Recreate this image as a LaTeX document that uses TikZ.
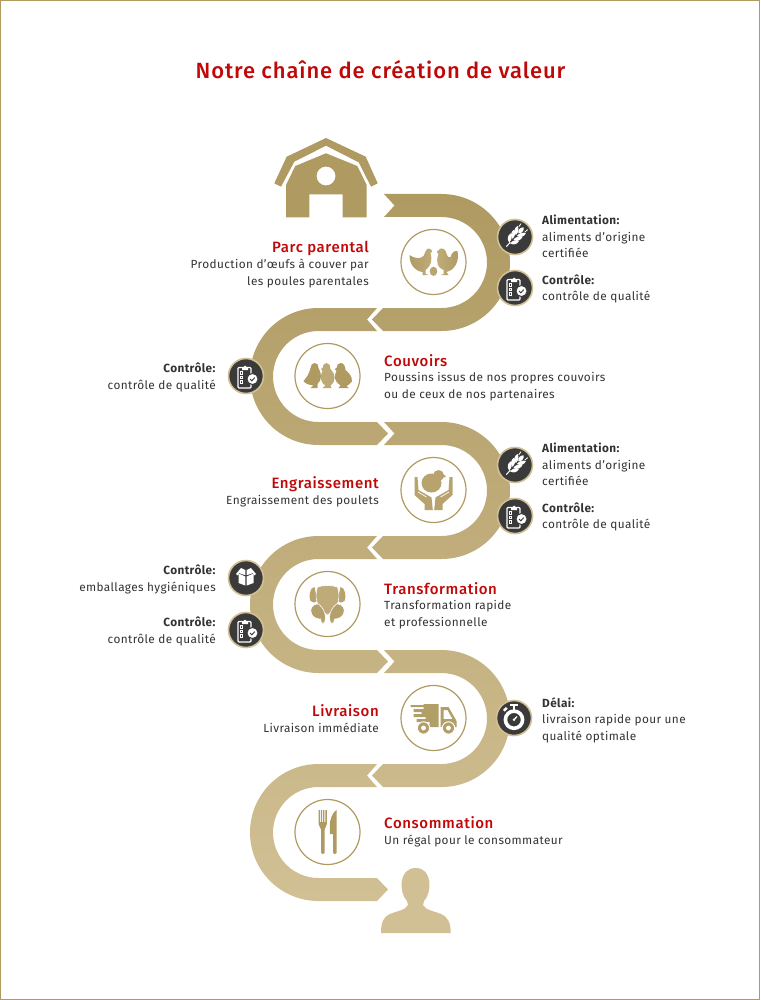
\documentclass[tikz,border=0pt]{standalone}
\usepackage{fontspec}
\setmainfont[LetterSpace=3.4]{Fira Sans}
\newfontfamily\spacedfont[LetterSpace=4]{Fira Sans Medium}
\usetikzlibrary{shapes.geometric}
\definecolor{goldA}{HTML}{AF9A62}
\definecolor{goldB}{HTML}{D1C094}
\definecolor{titlered}{HTML}{C00808}
\definecolor{bodygrey}{HTML}{333333}
\definecolor{badgegrey}{HTML}{3A3A3A}
\newcommand{\bandright}[3]{\path[top color=goldB!#2!goldA,bottom color=goldB!#3!goldA] (384,#1-68.5) -- (441.5,#1-68.5) arc[start angle=-90,end angle=90,radius=68.5] -- (383,#1+68.5) -- (372,#1+57) -- (383,#1+45.5) -- (441.5,#1+45.5) arc[start angle=90,end angle=-90,radius=45.5] -- (384,#1-45.5) -- (394.5,#1-57) -- cycle;}
\newcommand{\bandleft}[3]{\path[top color=goldB!#2!goldA,bottom color=goldB!#3!goldA] (377,#1-68.5) -- (367,#1-57) -- (377,#1-45.5) -- (318.5,#1-45.5) arc[start angle=270,end angle=90,radius=45.5] -- (377,#1+45.5) -- (388,#1+57) -- (377,#1+68.5) -- (318.5,#1+68.5) arc[start angle=90,end angle=270,radius=68.5] -- cycle;}
\tikzset{ring/.style={draw=goldA,fill=white,circle,line width=1.2pt,minimum size=65pt,inner sep=0pt}}
\tikzset{badge/.style={draw=goldB,fill=badgegrey,circle,line width=1.6pt,minimum size=35pt,inner sep=0pt}}
\tikzset{headtext/.style={inner sep=0pt,text=titlered,font={\fontsize{15}{18}\spacedfont}}}
\tikzset{blocktext/.style={inner sep=0pt,text=bodygrey,font={\fontsize{11.8}{16.4}\selectfont}}}
\tikzset{lefttext/.style={blocktext,align=right,anchor=base east}}
\tikzset{righttext/.style={blocktext,align=left,anchor=base west}}
\tikzset{wheaticon/.pic={
  \begin{scope}[rotate=-42,white]
    \foreach \g in {-5,0,5}{
      \fill (-.6,\g+3) .. controls (-5.5,\g+2) and (-6.5,\g-2) .. (-5.5,\g-5) .. controls (-2,\g-3.5) and (-.6,\g-1) .. cycle;
      \fill (.6,\g+3) .. controls (5.5,\g+2) and (6.5,\g-2) .. (5.5,\g-5) .. controls (2,\g-3.5) and (.6,\g-1) .. cycle;
    }
    \fill (0,-5) .. controls (-3,-7) and (-2.5,-11) .. (0,-13) .. controls (2.5,-11) and (3,-7) .. cycle;
    \draw[line width=1pt] (0,7) -- (0,13);
    \draw[line width=.8pt] (-4,-10) -- (-4.5,-14) (4,-10) -- (4.5,-14);
  \end{scope}}}
\tikzset{clipicon/.pic={
  \draw[white,line width=1.2pt,rounded corners=1pt] (-8,-8.5) rectangle (5,12);
  \fill[white] (-4,-9) -- (-2.5,-9) arc[start angle=180,end angle=360,radius=1.5] -- (2,-9) -- (2,-6) -- (-4,-6) -- cycle;
  \foreach \b in {-3,1.5,6}{\draw[white,line width=.8pt] (-6,\b-1.3) rectangle ++(2.6,2.6);}
  \fill[white,draw=badgegrey,line width=1pt] (6.5,3) circle (5.6);
  \draw[badgegrey,line width=1pt] (4,3) -- (5.8,4.8) -- (8.8,1.6);}}
\tikzset{boxicon/.pic={
  \fill[white] (-7.5,-4.5) -- (-.7,-1.5) -- (-.7,7.5) -- (-7.5,5) -- cycle;
  \fill[white] (7.5,-4.5) -- (.7,-1.5) -- (.7,7.5) -- (7.5,5) -- cycle;
  \fill[white] (-10,-4) -- (-5,-10) -- (-.7,-8) -- (-.7,-3) -- (-3,-3.5) -- (-7,-5) -- (-8,-2.5) -- cycle;
  \fill[white] (10,-4) -- (5,-10) -- (.7,-8) -- (.7,-3) -- (3,-3.5) -- (7,-5) -- (8,-2.5) -- cycle;}}
\tikzset{watchicon/.pic={
  \draw[white,line width=3.6pt] (0,1.7) circle (8.6);
  \fill[white] (-4,-14.5) rectangle (4,-12.5);
  \fill[white] (-1.4,-12.5) rectangle (1.4,-8);
  \fill[white,rotate=45] (-2,-13.5) rectangle (2,-11);
  \draw[white,line width=1.3pt] (0,1.7) -- (3,-1.5);
  \fill[white] (0,1.7) circle (1.4);}}
\begin{document}
\begin{tikzpicture}[x=1pt,y=-1pt]
    \useasboundingbox (0,0) rectangle (760,1000);
    \fill[white] (0,0) rectangle (760,1000);
    \draw[goldA,line width=1pt] (.5,.5) rectangle (759.5,999.5);

    \node[inner sep=0pt,text=titlered,font={\fontsize{22}{26}\spacedfont}](title) at (380.5,70){Notre chaîne de création de valeur};

    % ribbon
    \bandright{262.5}{0}{19}
    \bandleft{376.5}{16}{36}
    \bandright{490.5}{32}{52}
    \bandleft{604.5}{48}{68}
    \bandright{718.5}{65}{84}
    \bandleft{832.5}{81}{100}

    % barn
    \fill[goldA] (326,138) -- (365.7,156.7) -- (377.7,183.3) -- (371,186.7) -- (358.7,162.3) -- (326,145.7) -- (294.3,161.7) -- (281,186.7) -- (274.3,183.3) -- (286.7,156.7) -- cycle;
    \fill[goldA,even odd rule] (286,185) -- (295.3,166) -- (326,153.3) -- (357.3,166) -- (366.7,185) -- (366.7,217.3) -- (342.7,217.3) -- (342.7,194.3) -- (309.3,194.3) -- (309.3,217.3) -- (286,217.3) -- cycle (326,176) circle (9.5);

    \node[ring](R1) at (433.5,262){};
    \node[ring](R2) at (327.5,376){};
    \node[ring](R3) at (433.5,490){};
    \node[ring](R4) at (327.5,604){};
    \node[ring](R5) at (433.5,718){};
    \node[ring](R6) at (327.5,832){};

    % hens
    \begin{scope}[shift={(R1.center)}]
        \path[left color=goldA,right color=goldA!50!goldB] (-24,-7) .. controls (-18,-3) and (-13,-3) .. (-10,-6) .. controls (-8,-9) and (-8,-14) .. (-4,-13.5) -- (-1,-11) -- (-3,-9) .. controls (-1,-3) and (-2,4) .. (-8,8) -- (-8,12) -- (-5,13) -- (-11,13) -- (-11,10) .. controls (-19,9) and (-24,2) .. cycle;
        \path[left color=goldA!50!goldB,right color=goldA] (7,-13.5) -- (3,-10) -- (5,-8) .. controls (2,0) and (4,6) .. (10,8) -- (10,12) -- (7,13) -- (15,13) -- (13,10) .. controls (21,8) and (26,0) .. (24,-11) .. controls (20,-12) and (18,-8) .. (17,-5) .. controls (14,-3) and (13,-9) .. (12,-11) .. controls (11,-13) and (9,-14) .. cycle;
        \fill[goldA!70!goldB] (0,9.3) ellipse (3.8 and 4.6);
    \end{scope}
    % chicks
    \begin{scope}[shift={(R2.center)}]
        \fill[goldA] (-13,-13) .. controls (-10,-13) and (-9,-11) .. (-9,-8) .. controls (-6,-3) and (-5,4) .. (-10,8) -- (-10,12) -- (-17,12) -- (-14,9.5) .. controls (-18,9) and (-22,8) .. (-24,5) .. controls (-21,2) and (-18,-3) .. (-17,-8) .. controls (-17,-11) and (-15,-13) .. cycle;
        \fill[goldA!60!goldB] (-1,-13) .. controls (2,-13) and (3,-10) .. (3,-7) .. controls (8,-2) and (9,5) .. (3,9.5) -- (4,12) -- (-5,12) -- (-2,9.5) .. controls (-7,7) and (-8,0) .. (-5,-5) -- (-6.5,-7) -- (-5,-8) .. controls (-5,-11) and (-3,-13) .. cycle;
        \fill[goldA] (13,-13) .. controls (16,-13) and (18,-10) .. (18,-6) .. controls (24,-2) and (27,6) .. (22,8) -- (19,10) -- (21,12) -- (11,12) -- (13,9.5) .. controls (7,6) and (6,0) .. (9,-5) -- (7,-7) -- (9,-8) .. controls (9,-11) and (11,-13) .. cycle;
    \end{scope}
    % hands and chick
    \begin{scope}[shift={(R3.center)}]
        \fill[goldA!75!goldB] (-2,-7) ellipse (10 and 9.5);
        \fill[goldA!75!goldB] (5,-14.5) circle (5.5);
        \fill[goldA!75!goldB] (9.5,-16) -- (12.5,-13.5) -- (9,-12) -- cycle;
        \fill[goldA!75!goldB] (-19,-13) -- (-16,-13) -- (-15,0) -- (-2,7.5) -- (-.7,20) -- (-9,20) -- (-9,14) -- (-19,5) -- cycle;
        \fill[goldA!75!goldB] (19,-13) -- (16,-13) -- (15,0) -- (2,7.5) -- (.7,20) -- (9,20) -- (9,14) -- (19,5) -- cycle;
        \draw[white,line width=.7pt] (-15.5,2) -- (-7,7) (15.5,2) -- (7,7);
    \end{scope}
    % chicken
    \begin{scope}[shift={(R4.center)}]
        \fill[goldA!75!goldB] (-13,-17) .. controls (-18,-17) and (-19,-6) .. (-17,-3) .. controls (-15,-1) and (-12,-1) .. (-10,-3) -- cycle;
        \fill[goldA!75!goldB] (13,-17) .. controls (18,-17) and (19,-6) .. (17,-3) .. controls (15,-1) and (12,-1) .. (10,-3) -- cycle;
        \fill[goldA!55!goldB,draw=white,line width=.6pt] (-10,-17) .. controls (-4,-19) and (4,-19) .. (10,-17) .. controls (13,-8) and (12,4) .. (0,11) .. controls (-12,4) and (-13,-8) .. cycle;
        \fill[goldA!85!goldB,draw=white,line width=.6pt] (-9,0) .. controls (-16,0) and (-18,5) .. (-16,10) .. controls (-14,14) and (-10,15) .. (-7,15) -- (-6,19) -- (-3,19) -- (-2,14) .. controls (-2,8) and (-5,3) .. cycle;
        \fill[goldA!85!goldB,draw=white,line width=.6pt] (9,0) .. controls (16,0) and (18,5) .. (16,10) .. controls (14,14) and (10,15) .. (7,15) -- (6,19) -- (3,19) -- (2,14) .. controls (2,8) and (5,3) .. cycle;
    \end{scope}
    % truck
    \begin{scope}[shift={(R5.center)}]
        \fill[goldA!90!goldB] (-10,-14) -- (5,-14) -- (5,9) -- (-13,9) -- (-13,6) -- (-4,6) -- (-4,4) -- (-17,4) -- (-17,1) -- (-8,1) -- (-8,-1) -- (-20,-1) -- (-20,-4) -- (-12,-4) -- (-12,-6) -- (-20,-6) -- (-20,-9) -- (-10,-9) -- (-10,-11) -- (-23,-11) -- (-23,-13) -- (-10,-13) -- cycle;
        \fill[goldA!90!goldB,even odd rule] (7,-11) -- (15,-11) -- (23,3) -- (23,9) -- (7,9) -- cycle (10,-8) -- (14,-8) -- (19,1) -- (10,1) -- cycle;
        \fill[goldA!90!goldB,draw=white,line width=1pt] (-10,10) circle (6.2) (15,10) circle (6.2);
        \fill[white] (-10,10) circle (2.4) (15,10) circle (2.4);
    \end{scope}
    % fork and knife
    \begin{scope}[shift={(R6.center)}]
        \fill[goldA] (-9,-22) -- (-7.6,-22) -- (-7.6,-10) -- (-6.6,-10) -- (-6.6,-22) -- (-5.4,-22) -- (-5.4,-10) -- (-4.4,-10) -- (-4.4,-22) -- (-3.2,-22) -- (-3.2,-10) -- (-2.2,-10) -- (-2.2,-22) -- (-.7,-22) -- (-.7,-8) .. controls (-.7,-5) and (-3,-5) .. (-3,-2) -- (-3,21) .. controls (-3,22.5) and (-6.3,22.5) .. (-6.3,21) -- (-6.3,-2) .. controls (-6.3,-5) and (-9,-5) .. (-9,-8) -- cycle;
        \fill[goldA] (9,-22) .. controls (5,-20) and (2.3,-12) .. (2.3,-7) -- (2.3,2) -- (5.7,2) -- (5.7,21) .. controls (5.7,22.5) and (9,22.5) .. (9,21) -- cycle;
    \end{scope}
    % person
    \fill[goldB] (381,933) .. controls (381,923) and (383,917) .. (390,914) .. controls (396,911) and (405,911) .. (408,905) -- (407,901) .. controls (399,893) and (398,868) .. (415.7,868) .. controls (433,868) and (432,893) .. (424,901) -- (423,905) .. controls (426,911) and (435,911) .. (441,914) .. controls (448,917) and (450.7,923) .. (450.7,933) -- cycle;

    % badges
    \node[badge](B1) at (515,237){};
    \node[badge](B2) at (515,288){};
    \node[badge](B3) at (246,376){};
    \node[badge](B4) at (515,465){};
    \node[badge](B5) at (515,516){};
    \node[badge](B6) at (246,578){};
    \node[badge](B7) at (246,630){};
    \node[badge](B8) at (514,718){};
    \pic at (B1) {wheaticon};
    \pic at (B2) {clipicon};
    \pic at (B3) {clipicon};
    \pic at (B4) {wheaticon};
    \pic at (B5) {clipicon};
    \pic at (B6) {boxicon};
    \pic at (B7) {clipicon};
    \pic at (B8) {watchicon};

    % stages
    \node[headtext,anchor=base east](H1) at (369,252){Parc parental};
    \node[lefttext](T1) at (369,285){Production d'œufs à couver par\\les poules parentales};
    \node[headtext,anchor=base west](H2) at (384,366){Couvoirs};
    \node[righttext](T2) at (384,398){Poussins issus de nos propres couvoirs\\ou de ceux de nos partenaires};
    \node[headtext,anchor=base east](H3) at (379,488){Engraissement};
    \node[lefttext](T3) at (379,504){Engraissement des poulets};
    \node[headtext,anchor=base west](H4) at (384,594){Transformation};
    \node[righttext](T4) at (384,626){Transformation rapide\\et professionnelle};
    \node[headtext,anchor=base east](H5) at (379,716){Livraison};
    \node[lefttext](T5) at (379,732){Livraison immédiate};
    \node[headtext,anchor=base west](H6) at (384,828){Consommation};
    \node[righttext](T6) at (384,844){Un régal pour le consommateur};

    % notes
    \node[righttext](N1) at (542,257.5){\textbf{Alimentation:}\\aliments d'origine\\certifiée};
    \node[righttext](N2) at (542,300.5){\textbf{Contrôle:}\\contrôle de qualité};
    \node[lefttext](N3) at (216,389){\textbf{Contrôle:}\\contrôle de qualité};
    \node[righttext](N4) at (542,485.5){\textbf{Alimentation:}\\aliments d'origine\\certifiée};
    \node[righttext](N5) at (542,528.5){\textbf{Contrôle:}\\contrôle de qualité};
    \node[lefttext](N6) at (216,591){\textbf{Contrôle:}\\emballages hygiéniques};
    \node[lefttext](N7) at (216,643){\textbf{Contrôle:}\\contrôle de qualité};
    \node[righttext](N8) at (542,740){\textbf{Délai:}\\livraison rapide pour une\\qualité optimale};
\end{tikzpicture}
\end{document}
